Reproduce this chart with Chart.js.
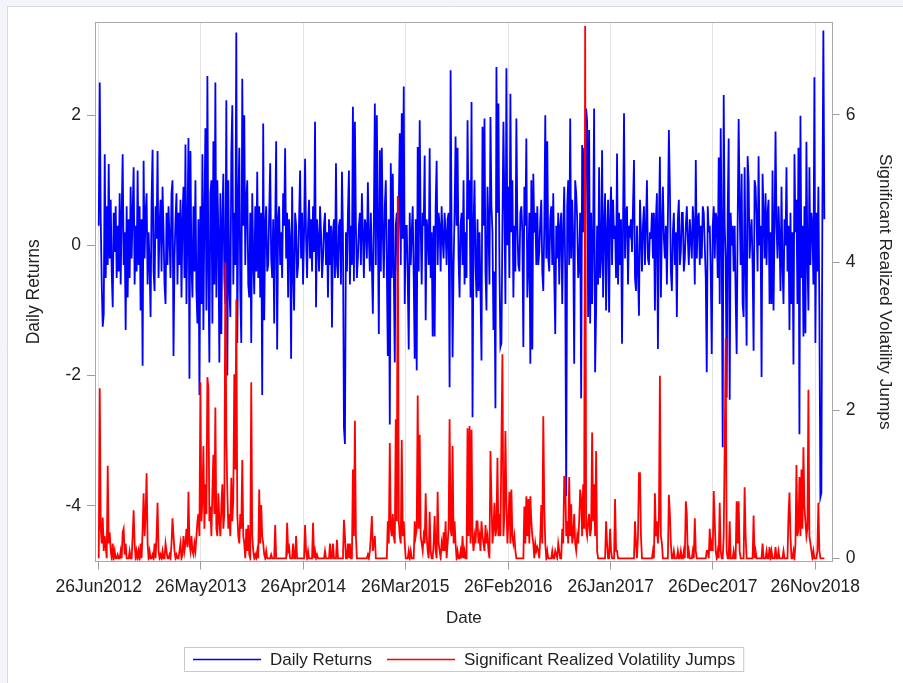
<!DOCTYPE html>
<html><head><meta charset="utf-8">
<script src="https://cdn.jsdelivr.net/npm/chart.js@4.4.1/dist/chart.umd.min.js"></script>
<style>html,body{margin:0;padding:0;background:#f4f5fa;}canvas{display:block}</style>
</head><body>
<canvas id="c" width="903" height="683"></canvas>
<script>
// ---------- DATA ----------
const seriesNames = ['Daily Returns', 'Significant Realized Volatility Jumps'];
const xTitle = 'Date';
const firstDate = '2012-06-26', lastDate = '2018-12-26';
const axisStartDate = '2012-06-17', axisEndDate = '2019-01-19';
const xTickDates = ['2012-06-26','2013-05-26','2014-04-26','2015-03-26','2016-02-26','2017-01-26','2017-12-26','2018-11-26'];
const xTickLabels = ['26Jun2012','26May2013','26Apr2014','26Mar2015','26Feb2016','26Jan2017','26Dec2017','26Nov2018'];
const leftTicks = [-4, -2, 0, 2];
const rightTicks = [0, 2, 4, 6];
const leftRange = [-4.84, 3.415];
const rightRange = [-0.03, 7.24];

// Daily returns (evenly spaced through time)
const returnsA = [
 0.3,2.5,0.4,-0.6,-1.25,-1.05,1.4,-0.5,0.6,-0.3,1.25,-0.2,0.7,-0.4,-0.95,0.5,-0.1,0.6,-0.5,0.3,
 -0.4,0.8,-0.6,0.5,1.4,-0.3,0.2,-1.3,0.6,-0.8,0.4,-0.5,0.9,-0.2,0.5,1.2,-0.6,0.3,-0.4,1.15,
 -0.3,0.6,-1.0,0.4,-1.85,1.3,-0.2,0.5,0.8,-0.6,0.2,-0.3,-1.1,0.7,1.47,-0.4,-0.7,0.6,0.1,1.45,
 -0.5,0.3,0.7,-0.4,0.9,0.2,-0.6,-0.9,0.5,-0.3,0.6,0.1,-0.5,0.8,1.0,-1.7,-0.2,0.4,0.8,-0.6,
 0.5,-0.3,0.7,-0.8,0.4,0.9,-0.5,1.55,-0.9,0.3,1.65,-2.05,1.45,-0.3,-0.8,0.6,-0.4,1.0,-0.7,-1.2,
 0.4,-2.3,0.6,-0.9,1.4,-1.3,0.5,1.8,-1.0,2.6,-0.4,-1.8,0.8,1.0,-1.2,1.6,-0.6,2.5,-0.8,1.0
];
const returnsB = [
 0.2,-1.8,0.8,-1.36,0.4,1.1,-0.5,-0.9,2.23,-2.0,1.0,-0.6,-1.1,1.4,2.15,-0.6,0.5,-0.3,3.27,-1.5,
 0.6,1.5,-0.7,-1.5,2.56,0.3,2.0,-0.3,0.7,1.0,-0.6,-0.8,0.5,-1.5,0.8,-0.2,-0.75,0.6,-0.4,1.13,
 -0.5,0.6,-0.8,0.5,-2.3,1.87,-1.15,0.3,0.6,-0.4,-0.3,0.5,1.26,-0.2,-0.5,0.4,-1.2,0.3,1.6,-1.6,
 0.4,0.6,-0.3,0.2,-0.5,0.8,0.3,1.49,-0.2,0.5,-0.8,0.4,0.1,-1.74,0.9,-0.4,-1.0,0.5,0.3,-0.5,
 -0.3,0.4,1.15,-0.2,0.5,-0.6,0.2,1.33,0.1,-0.5,0.3,0.7,-0.2,0.4,-0.4,0.6,-0.1,1.9,-0.95,0.4,
 0.1,-0.4,0.6,0.2,-0.5,-0.2,0.3,0.5,-0.3,0.2,-0.8,0.4,-0.3,0.3,-1.26,0.2,0.4,-0.5,1.26,-0.3
];
const returnsC = [
 -0.5,0.3,0.4,-0.6,1.13,0.2,-2.8,-3.05,0.2,-0.4,0.5,1.15,-0.6,0.3,-0.3,2.13,-0.55,1.9,0.3,-0.5,
 -0.2,0.3,0.5,-0.3,0.8,0.2,-0.5,0.4,0.3,-0.2,0.97,0.1,-0.4,0.5,-0.3,-1.05,0.4,2.18,-0.3,2.0,
 0.3,-1.36,1.46,-0.4,1.5,0.2,-0.5,0.6,1.0,-0.3,-1.7,0.4,-2.75,1.26,-0.5,1.1,-0.4,-1.8,0.3,0.5,
 -0.4,0.6,1.72,-0.3,2.03,0.1,2.44,-0.9,0.3,0.3,-0.5,-1.6,0.5,-0.3,0.2,0.6,-0.5,-1.74,0.4,-1.92,
 1.51,-0.4,1.92,0.3,-0.6,0.5,0.3,1.38,-1.15,0.4,0.2,-0.3,1.49,-0.5,0.2,-1.4,0.3,-1.4,0.6,1.3,
 -0.3,0.5,0.3,-0.4,0.6,0.1,-0.2,0.5,0.2,-0.3,0.4,0.5,-2.18,2.69,0.2,-1.72,-0.3,0.5,1.67,0.3
];
const returnsD = [
 1.5,-0.2,-0.8,0.3,0.5,-0.3,1.0,-0.6,0.2,-0.5,1.92,0.4,1.0,-0.8,2.2,-2.64,0.3,1.0,-0.3,-0.8,
 0.4,-0.7,0.2,-0.7,-1.77,1.82,0.3,1.95,-0.4,-1.0,0.9,0.3,-0.6,1.97,0.6,0.2,-1.3,-0.4,-2.5,2.74,
 0.5,2.18,-0.3,-1.56,-1.5,0.3,1.9,0.6,-0.9,2.72,0.0,0.9,-0.5,2.33,0.2,1.0,-0.8,0.3,-0.4,1.95,
 0.3,-0.3,-0.4,0.5,0.6,0.2,-1.56,0.9,0.3,1.64,-0.8,-0.3,0.5,-1.82,1.0,-1.6,1.1,0.2,0.5,-0.3,
 0.6,-0.3,-0.1,0.4,0.7,-0.4,-0.7,0.3,2.0,-0.2,1.6,-0.2,-0.4,0.4,0.6,-0.3,0.8,-0.5,-1.36,0.3,
 -0.2,0.5,-0.6,0.3,0.5,-0.9,0.2,0.9,-0.4,-3.85,0.6,1.0,-0.3,1.95,-0.2,0.7,0.1,-1.82,1.0,0.8
];
const returnsE = [
 0.4,-0.5,-0.3,0.5,-2.35,1.54,0.2,1.5,0.3,2.1,1.9,-1.1,1.77,-1.2,0.5,-0.9,0.2,2.1,-1.95,-1.0,
 0.3,-0.6,1.2,-0.5,-0.2,1.46,-0.8,0.3,0.8,-1.0,0.2,0.7,-1.03,0.4,0.9,-0.3,0.7,0.1,0.3,-0.5,
 1.41,-0.6,0.5,-0.3,0.4,-1.51,0.3,2.03,-0.2,0.5,0.6,-0.6,0.3,0.2,0.4,-0.1,0.6,1.31,-0.5,-0.7,
 0.3,-0.4,-1.08,0.7,0.2,-0.4,0.3,0.6,-0.3,0.3,1.0,-0.2,-0.3,0.2,0.1,0.5,-0.2,0.5,-1.0,0.4,
 0.8,-1.59,0.3,1.36,-0.8,0.3,0.9,0.1,-0.2,0.3,-0.6,0.4,1.77,0.9,-0.4,-0.7,0.2,0.5,-0.3,0.2,
 -1.1,0.4,0.7,-0.3,-0.1,0.5,0.5,-0.4,-0.2,0.3,0.6,0.1,-0.3,0.4,0.1,-0.2,0.6,0.3,-0.6,1.31
];
const returnsF = [
 -0.2,0.4,0.5,-0.3,0.3,-0.2,0.6,0.5,0.0,-0.5,-1.95,0.6,0.2,0.3,-0.4,-1.67,0.3,0.6,-0.2,0.5,
 0.4,-0.5,1.35,-0.9,1.8,0.2,-3.1,2.31,0.3,-0.2,-2.34,0.5,1.64,-2.37,0.5,0.0,0.3,-0.4,0.3,-0.8,
 -1.67,0.3,1.94,0.6,-0.3,1.1,-0.9,-1.1,1.2,-0.3,-1.54,1.37,1.0,-0.2,0.2,0.4,-0.3,-1.62,1.0,0.9,
 0.4,-0.4,1.37,0.0,0.3,-2.02,1.1,0.5,-0.2,0.8,-0.3,0.5,0.7,-0.9,0.2,-0.9,1.15,-1.0,0.3,1.75,
 0.3,-0.2,0.6,0.1,-0.7,0.9,-0.3,-0.9,0.4,0.0,1.2,-0.4,0.3,-1.3,0.5,-0.9,0.2,-1.83,1.4,0.2,
 0.7,-0.9,1.5,-2.9,1.99,-0.5,0.3,-1.4,0.6,-1.35,1.59,-0.2,-1.0,1.2,-0.3,0.5,0.3,-0.6,2.58,-1.5,
 0.5,-0.4,0.9,-1.0,-3.87,-3.8,0.5,3.3,0.4
];

// Significant realized volatility jumps (same dates)
const jumpsA = [
 0,2.3,0.4,0.2,0.55,0.1,0.3,0.15,0,1.25,0.2,0.35,0.1,0,0.2,0,0.1,0,0,0.05,
 0,0,0.1,0,0.35,0.4,0.05,0.2,0,0,0,0.1,0,0,0.3,0.65,0.2,0,0.1,0,
 0.1,0,0.2,0,0.4,0.88,0.3,0.6,1.15,0.2,0,0.1,0,0,0.05,0,0.2,0,0.3,0.75,
 0.1,0,0.05,0,0.1,0,0,0.2,0.1,0,0,0.05,0,0.2,0.54,0.3,0.1,0,0.05,0,
 0,0.1,0.2,0,0.05,0.3,0.1,0.2,0.4,0.15,0.9,0.2,0.1,0.3,0.1,0.05,0.2,0.1,0.3,0.5,
 0.6,0.3,2.38,0.5,0.8,1.52,0.4,1.0,0.6,2.45,2.3,0.5,0.7,0.3,0.9,1.4,0.6,2.04,0.4,0.3
];
const jumpsB = [
 0.88,0.5,0.3,0.7,1.0,0.4,0.6,4.0,1.65,0.9,0.4,0.6,0.3,1.09,0.5,0.8,2.49,1.2,3.5,0.6,
 0.3,0.2,0.6,0.4,1.33,0.3,0.2,0,0.4,0.1,0.45,0.05,0,2.38,0.3,0.1,0,0.05,0,0.1,
 0,0.93,0.2,0.72,0.3,0.2,0.05,0,0.1,0,0,0,0,0.05,0,0,0,0.45,0,0,
 0,0,0,0,0,0,0,0,0,0.48,0.1,0.15,0,0,0,0.2,0,0,0.3,0,
 0,0,0,0,0,0,0,0.45,0.1,0,0.1,0,0,0,0,0.48,0,0.1,0,0.05,
 0,0,0,0,0,0,0,0.1,0,0,0,0,0.2,0,0,0.2,0,0,0,0.25
];
const jumpsC = [
 0,0,0,0,0,0,0.52,0.3,0,0,0.2,0,0.2,0,0,1.2,0.3,1.86,0.3,0,
 0,0,0,0,0,0,0,0,0,0,0.05,0,0.1,0.3,0.57,0.1,0.2,0.3,0,0,
 0,0,0,0,0,0,0,0,0,0,0.5,0.2,1.56,0.4,0.3,0.6,0.3,0.2,1.88,0.5,
 4.9,0.5,0.3,0.2,1.6,0.3,0.5,0.2,0,0,0,0.1,0,0.1,0,0,0,0.5,0.3,0.4,
 2.2,0.4,1.67,0.3,0.2,0.1,0.3,0.2,0.88,0.3,0.1,0,0.63,0.1,0,0,0.2,0.57,0.1,0,
 0.9,0.2,0.1,0,0.2,0.1,0.35,0.1,0.5,0,0.2,0.4,1.88,0.4,0.3,1.52,0.2,0.5,0.2,0
];
const jumpsD = [
 0.1,0,0,0.1,0,0.3,0,0.1,0,0,1.76,0.3,1.79,0.2,1.74,0.3,0.1,0.3,0.2,0.5,
 0.5,0.2,0.3,0.1,0.5,0.3,0.2,0.1,0.45,0.2,0.3,0.1,0,1.45,0.8,0.2,0.4,0.75,0.3,0.4,
 1.36,0.3,0.6,0.3,1.58,2.76,0.3,0.6,1.72,0.75,0.2,0.5,0.9,0.2,0.93,0.3,0.2,0.3,0.1,0,
 0,0,0,0,0,0,0,0.7,0.2,0.84,0.3,0.8,0.2,0.84,0.5,0.3,0.2,0,0.2,0.1,
 0.15,0.1,0,0.3,0.72,0.2,1.92,0.7,0.2,0,0.1,0,0,0,0,0.1,0,0,0.1,0.05,
 0,0.2,0.1,0,0,0.4,0.2,1.1,1.1,0.3,0.5,0.2,1.1,0.3,0.73,0.2,0.3,0.6,0.2,0.1
];
const jumpsE = [
 0.3,0.2,0.5,0.93,0.8,0.3,1.0,0.4,7.2,0.4,0.3,0.5,0.6,0.3,0.4,1.7,0.5,1.0,0.3,1.45,
 0.1,0,0,0,0,0,0,0,0,0.5,0.2,0,0,0.4,0.1,0,0,0,0.8,0.1,
 0.1,0,0,0,0,0,0,0,0,0,0,0,0,0,0,0,0,0,0.5,0.2,
 0,0.3,1.15,1.15,0.3,0,0,0,0,0,0,0,0,0,0,0,0.1,0,0.88,0.3,
 0.5,0.2,0.5,2.47,0.3,0.2,0,0,0,0,0,0,0.86,0.6,0.2,0,0,0.1,0,0,
 0,0.1,0,0,0.1,0,0,0.1,0,0.77,0.6,0,0.1,0,0,0,0.1,0,0.54,0.1
];
const jumpsF = [
 0,0,0,0,0,0,0,0,0,0,0.1,0.1,0,0.4,0.1,0.2,0.1,0.91,0.5,0.1,
 0,0.1,0,0.75,0.1,0,0,0.3,1.5,2.98,0.1,0,0,0.5,0,0,0,0.1,0,0,
 0.77,0.2,0.77,0.1,0,0,0,0,0.96,0.3,0,0,0,0,0,0,0,0.58,0,0.1,
 0,0,0,0,0,0,0.2,0,0,0,0.1,0,0,0.15,0,0.1,0,0,0,0.15,
 0,0,0.1,0,0,0,0,0.1,0,0,0,0,0.58,0.89,0.3,0,0,0.1,0,0.2,
 1.26,0.3,0.4,1.1,0.3,1.2,0.4,1.5,0.7,0.5,0.3,0.4,2.28,0.3,0.2,0.1,0,0.1,0,0,
 0,0.1,0.75,0.1,0,0,0,0,0
];

// ---------- BUILD ----------
const dailyReturns = [].concat(returnsA, returnsB, returnsC, returnsD, returnsE, returnsF);
const volJumps = [].concat(jumpsA, jumpsB, jumpsC, jumpsD, jumpsE, jumpsF);
const baseUTC = Date.UTC(2012, 5, 26);
function dayNum(s) { const p = s.split('-').map(Number); return (Date.UTC(p[0], p[1]-1, p[2]) - baseUTC) / 864e5; }
const d0 = dayNum(firstDate), d1 = dayNum(lastDate);
const nPts = dailyReturns.length;
const xDays = dailyReturns.map((_, i) => d0 + i * (d1 - d0) / (nPts - 1));
const retPts = dailyReturns.map((v, i) => ({x: xDays[i], y: v}));
const jumpPts = volJumps.map((v, i) => ({x: xDays[i], y: v}));
const xTickDays = xTickDates.map(dayNum);

const FONT = "'Liberation Sans', Arial, Helvetica, sans-serif";
Chart.defaults.font.family = FONT;
const TXT = '#222222';
const TICKC = '#9c9c9c';

const bgPlugin = {
  id: 'bg',
  beforeDraw(chart) {
    const c = chart.ctx; c.save();
    c.fillStyle = '#f4f5fa'; c.fillRect(0, 0, chart.width, chart.height);
    c.fillStyle = '#ffffff'; c.fillRect(8, 7, chart.width - 8, chart.height - 7);
    c.strokeStyle = '#d6dae3'; c.lineWidth = 1;
    c.beginPath(); c.moveTo(7.5, chart.height); c.lineTo(7.5, 6.5); c.lineTo(chart.width, 6.5); c.stroke();
    c.restore();
  }
};
const framePlugin = {
  id: 'frame',
  afterDatasetsDraw(chart) {
    const a = chart.chartArea, c = chart.ctx; c.save();
    c.strokeStyle = '#a9a9a9'; c.lineWidth = 1;
    c.strokeRect(Math.round(a.left) - 0.5, Math.round(a.top) - 0.5, Math.round(a.right - a.left) + 1, Math.round(a.bottom - a.top) + 1);
    c.restore();
  }
};
const legendPlugin = {
  id: 'customLegend',
  afterDraw(chart) {
    const a = chart.chartArea, c = chart.ctx; c.save();
    c.font = "17px " + FONT;
    const colors = ['#0000ff', '#ff0000'];
    const w0 = c.measureText(seriesNames[0]).width, w1 = c.measureText(seriesNames[1]).width;
    const pad = 8.5, lineLen = 68, gap = 9, itemGap = 15;
    const total = pad + lineLen + gap + w0 + itemGap + lineLen + gap + w1 + pad;
    const left = Math.round((a.left + a.right) / 2 - total / 2) + 0.5;
    const top = 647.5, h = 24, cy = top + h / 2;
    c.strokeStyle = '#c9c9c9'; c.lineWidth = 1; c.strokeRect(left, top, total, h);
    let x = left + pad;
    c.textBaseline = 'middle'; c.textAlign = 'left'; c.fillStyle = TXT;
    [w0, w1].forEach((w, i) => {
      c.strokeStyle = colors[i]; c.lineWidth = 1.5;
      c.beginPath(); c.moveTo(x, cy); c.lineTo(x + lineLen, cy); c.stroke();
      x += lineLen + gap;
      c.fillText(seriesNames[i], x, cy + 0.5);
      x += w + itemGap;
    });
    c.restore();
  }
};

new Chart(document.getElementById('c').getContext('2d'), {
  type: 'line',
  data: {
    datasets: [
      {label: seriesNames[1], data: jumpPts, yAxisID: 'y2', borderColor: '#ff0000', borderWidth: 1.8,
       pointRadius: 0, tension: 0, fill: false, order: 0},
      {label: seriesNames[0], data: retPts, yAxisID: 'y', borderColor: '#0000ff', borderWidth: 1.8,
       pointRadius: 0, tension: 0, fill: false, order: 1}
    ]
  },
  options: {
    responsive: false, animation: false, events: [],
    layout: {padding: {top: 23, left: 0, right: 0, bottom: 0}},
    plugins: {legend: {display: false}, tooltip: {enabled: false}},
    scales: {
      x: {
        type: 'linear', position: 'bottom',
        min: dayNum(axisStartDate), max: dayNum(axisEndDate),
        afterBuildTicks: s => { s.ticks = xTickDays.map(v => ({value: v})); },
        afterFit: s => { s.height = 122.5; },
        ticks: {autoSkip: false, maxRotation: 0, minRotation: 0, padding: 7, color: TXT,
                font: {size: 17.5}, callback: (v, i) => xTickLabels[i]},
        grid: {color: '#e3e3e3', lineWidth: 1, tickLength: 9, tickColor: TICKC, drawOnChartArea: true},
        border: {display: false},
        title: {display: true, text: xTitle, color: TXT, font: {size: 17}, padding: {top: 0, bottom: 54}}
      },
      y: {
        position: 'left', min: leftRange[0], max: leftRange[1],
        afterBuildTicks: s => { s.ticks = leftTicks.map(v => ({value: v})); },
        afterFit: s => { s.width = 96; },
        ticks: {padding: 6, color: TXT, font: {size: 17.5}, callback: v => String(v)},
        grid: {drawOnChartArea: false, tickLength: 9, tickColor: TICKC},
        border: {display: false},
        title: {display: true, text: seriesNames[0], color: TXT, font: {size: 17.5}, padding: {top: 23.5, bottom: 0}}
      },
      y2: {
        position: 'right', min: rightRange[0], max: rightRange[1],
        afterBuildTicks: s => { s.ticks = rightTicks.map(v => ({value: v})); },
        afterFit: s => { s.width = 71.3; },
        ticks: {padding: 6, color: TXT, font: {size: 17.5}, callback: v => String(v)},
        grid: {drawOnChartArea: false, tickLength: 8, tickColor: TICKC},
        border: {display: false},
        title: {display: true, text: 'Significant Realized Volatility Jumps', color: TXT, font: {size: 17.3}, padding: {top: 8, bottom: 0}}
      }
    }
  },
  plugins: [bgPlugin, framePlugin, legendPlugin]
});
</script>
</body></html>
